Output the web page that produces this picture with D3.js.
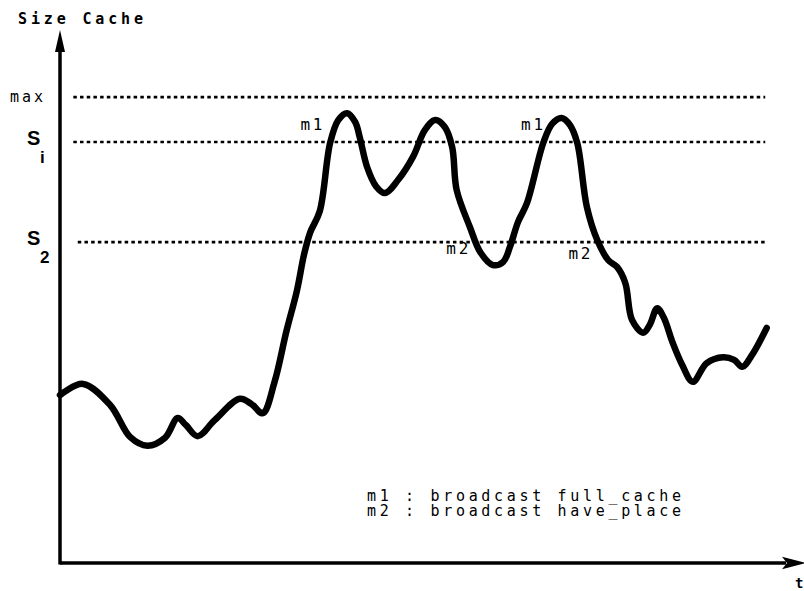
<!DOCTYPE html>
<html>
<head>
<meta charset="utf-8">
<script src="https://cdn.jsdelivr.net/npm/d3@7"></script>
<style>
  html, body { margin: 0; padding: 0; background: #fff; }
  svg { display: block; }
  .mono { font-family: "DejaVu Sans Mono", "Liberation Mono", monospace; fill: #000; }
  .bold { font-weight: bold; }
  .sans { font-family: "Liberation Sans", "DejaVu Sans", sans-serif; font-weight: bold; fill: #000; }
</style>
</head>
<body>
<svg id="chart" width="804" height="591"></svg>
<script>
// ---- data (time t in 0..100, size in 0..100) ----
const timeValues = [0, 3.1, 6.8, 9.5, 11.8, 14.2, 15.9, 17.0, 18.6, 20.9, 24.3, 25.9, 27.4, 29.0, 30.6, 32.0, 33.0, 33.8, 35.1, 36.5, 37.6, 38.8, 39.9, 40.5, 41.5, 42.7, 43.9, 45.7, 47.7, 49.3, 50.7, 52.0, 53.0, 53.6, 55.4, 56.8, 58.5, 59.9, 60.8, 61.9, 63.1, 65.3, 66.5, 67.8, 68.9, 69.9, 71.2, 72.6, 74.1, 75.3, 76.4, 77.3, 78.8, 79.7, 80.7, 81.6, 82.8, 84.1, 85.5, 87.4, 89.6, 91.1, 92.2, 93.5, 95.5];
const sizeValues = [31.5, 33.6, 29.6, 23.6, 22.0, 23.5, 27.2, 25.9, 23.8, 26.8, 30.8, 29.8, 28.1, 34.0, 43.5, 51.0, 58.0, 62.0, 66.0, 78.8, 83.1, 84.4, 82.7, 79.9, 74.3, 70.7, 69.4, 71.9, 76.2, 81.2, 83.1, 81.8, 78.0, 70.0, 63.0, 58.3, 55.9, 56.5, 59.3, 64.0, 67.5, 78.8, 82.4, 83.5, 82.2, 78.8, 66.8, 60.6, 56.8, 55.5, 52.5, 45.6, 43.2, 44.7, 47.8, 46.0, 41.3, 37.1, 34.0, 37.5, 38.6, 38.1, 36.8, 39.0, 44.1];

const thresholdNames = ["max", "S_i", "S_2"];
const thresholdValues = [87.4, 79.0, 60.2];
const thresholdStart = [1.8, 1.8, 2.4];
const thresholdEnd = 95.3;

const markerLabels = ["m1", "m2", "m1", "m2"];
const markerTimes = [32.5, 52.2, 62.3, 68.7];
const markerSizes = [81.3, 58.0, 81.3, 57.0];

const legendLines = ["m1 : broadcast full_cache", "m2 : broadcast have_place"];
const yAxisTitle = "Size Cache";
const xAxisTitle = "t";

// ---- scales ----
const x = d3.scaleLinear().domain([0, 100]).range([60, 800]);
const y = d3.scaleLinear().domain([0, 100]).range([563, 30]);

const svg = d3.select("#chart");

// axes
svg.append("line").attr("x1", x(0)).attr("x2", x(100) - 14).attr("y1", y(0)).attr("y2", y(0))
  .attr("stroke", "#000").attr("stroke-width", 3.5);
svg.append("line").attr("x1", x(0)).attr("x2", x(0)).attr("y1", y(0) + 1.5).attr("y2", y(100) + 16)
  .attr("stroke", "#000").attr("stroke-width", 3.5);
// arrowheads
svg.append("path")
  .attr("d", `M${x(0)},${y(100)} L${x(0) - 5},${y(100) + 22} L${x(0) + 5},${y(100) + 22} Z`)
  .attr("fill", "#000");
svg.append("path")
  .attr("d", `M${x(100) + 3},${y(0)} L${x(100) - 16},${y(0) - 5} L${x(100) - 12},${y(0)} L${x(100) - 16},${y(0) + 5} Z`)
  .attr("fill", "#000").attr("stroke", "#000").attr("stroke-width", 1.5);

// axis titles
svg.append("text").attr("class", "mono bold").attr("x", 18).attr("y", 24)
  .attr("font-size", 15).attr("textLength", 125).attr("lengthAdjust", "spacing").text(yAxisTitle);
svg.append("text").attr("class", "mono bold").attr("x", 795).attr("y", 588)
  .attr("font-size", 14).text(xAxisTitle);

// threshold lines
thresholdValues.forEach((v, i) => {
  svg.append("line")
    .attr("x1", x(thresholdStart[i])).attr("x2", x(thresholdEnd))
    .attr("y1", y(v)).attr("y2", y(v))
    .attr("stroke", "#000").attr("stroke-width", 2.6)
    .attr("stroke-dasharray", "3.5,3.2");
});

// threshold labels
svg.append("text").attr("class", "mono").attr("x", 10).attr("y", y(thresholdValues[0]) + 5)
  .attr("font-size", 15).attr("textLength", 33).attr("lengthAdjust", "spacing").text(thresholdNames[0]);
function subLabel(name, v) {
  const parts = name.split("_");
  svg.append("text").attr("class", "sans").attr("x", 27).attr("y", y(v) + 3)
    .attr("font-size", 20).text(parts[0]);
  svg.append("text").attr("class", "sans").attr("x", 40).attr("y", y(v) + 21)
    .attr("font-size", 17).text(parts[1]);
}
subLabel(thresholdNames[1], thresholdValues[1]);
subLabel(thresholdNames[2], thresholdValues[2]);

// curve
const pts = timeValues.map((t, i) => [t, sizeValues[i]]);
const line = d3.line().x(d => x(d[0])).y(d => y(d[1])).curve(d3.curveCatmullRom.alpha(0.5));
svg.append("path").attr("d", line(pts)).attr("fill", "none")
  .attr("stroke", "#000").attr("stroke-width", 6.5)
  .attr("stroke-linejoin", "round").attr("stroke-linecap", "round");

// marker labels
markerLabels.forEach((m, i) => {
  svg.append("text").attr("class", "mono").attr("x", x(markerTimes[i])).attr("y", y(markerSizes[i]))
    .attr("font-size", 16).attr("textLength", 22).attr("lengthAdjust", "spacing").text(m);
});

// legend
legendLines.forEach((s, i) => {
  svg.append("text").attr("class", "mono").attr("x", 367).attr("y", 501 + i * 14.5)
    .attr("font-size", 15).attr("textLength", 314).attr("lengthAdjust", "spacing").text(s);
});
</script>
</body>
</html>
